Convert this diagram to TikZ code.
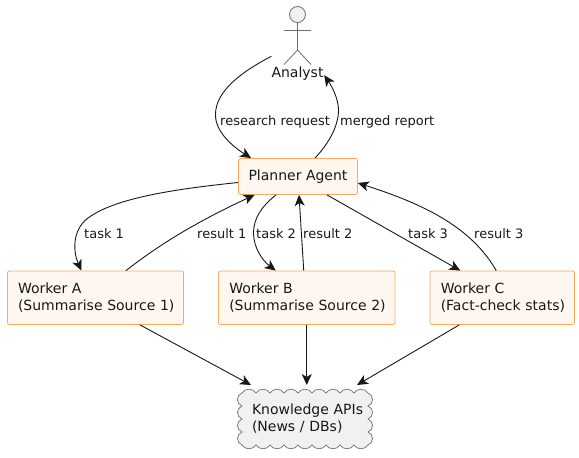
\documentclass[tikz,border=0pt]{standalone}
\usepackage{fontspec}
\setmainfont{DejaVu Sans}
\usetikzlibrary{arrows.meta}
\definecolor{boxline}{HTML}{F0AD62}
\definecolor{boxfill}{HTML}{FFF6F0}
\definecolor{ink}{HTML}{181818}
\definecolor{pale}{HTML}{F1F1F1}
\definecolor{grayline}{HTML}{6E6E6E}
\tikzset{
  x=1pt,y=-1pt,
  every node/.style={font=\fontsize{14}{17.5}\selectfont,text=ink},
  agent/.style={draw=boxline,fill=boxfill,line width=0.8pt,rounded corners=2pt,align=left,inner sep=0pt},
  edge label/.style={anchor=base west,inner sep=0pt,font=\fontsize{13}{15}\selectfont},
  link/.style={draw=ink,line width=0.9pt,-{Stealth[length=11pt,width=10pt,inset=3pt]}},
  actorline/.style={draw=grayline,line width=0.8pt},
}
\begin{document}
\begin{tikzpicture}
\useasboundingbox (0,0) rectangle (579,458);
% actor
\draw[actorline,fill=pale] (297.5,14.5) circle[radius=8pt];
\draw[actorline] (297.5,22.5) -- (297.5,50) (284,30.5) -- (311,30.5) (284,64.5) -- (297.5,50) -- (311,64.5);
\node[inner sep=0pt,minimum width=52pt,minimum height=14pt] (analyst) at (297.5,74) {Analyst};
% boxes
\node[agent,minimum width=119pt,minimum height=36pt] (planner) at (298,176.5) {Planner Agent};
\node[agent,minimum width=176pt,minimum height=53.5pt,text width=155pt] (workerA) at (95.5,297.75) {Worker A\\\mbox{(Summarise Source 1)}};
\node[agent,minimum width=176.5pt,minimum height=53.5pt,text width=155pt] (workerB) at (306.75,297.75) {Worker B\\\mbox{(Summarise Source 2)}};
\node[agent,minimum width=144.5pt,minimum height=53.5pt,text width=123pt] (workerC) at (502.25,297.75) {Worker C\\\mbox{(Fact-check stats)}};
% cloud
\path[draw=grayline,fill=pale,line width=0.7pt]
  (242,393)
  \foreach \i in {0,...,8} { .. controls (242+14*\i+3,388) and (242+14*\i+11,388) .. (242+14*\i+14,393) }
  \foreach \i in {0,...,3} { .. controls (374,393+13*\i+2) and (374,393+13*\i+11) .. (368,393+13*\i+13) }
  \foreach \i in {0,...,8} { .. controls (368-14*\i-3,450) and (368-14*\i-11,450) .. (368-14*\i-14,445) }
  \foreach \i in {0,...,3} { .. controls (236,445-13*\i-2) and (236,445-13*\i-11) .. (242,445-13*\i-13) }
  -- cycle;
\node[inner sep=0pt,align=left,text width=118pt] (apis) at (311,418.5) {Knowledge APIs\\(News / DBs)};
% connectors
\draw[link] ([yshift=10.5pt]analyst.north west) .. controls (245,70) and (215,90) .. (215.5,115) .. controls (215.5,133) and (235,148) .. ([xshift=13pt]planner.north west);
\draw[link] ([xshift=17pt]planner.north) .. controls (330,142) and (338.5,125) .. (338.5,110) .. controls (338.5,100) and (333,88) .. ([xshift=0.5pt,yshift=6pt]analyst.south east);
\draw[link] ([yshift=-6pt]planner.west) .. controls (175,189) and (115,198) .. (88,218) .. controls (72,230) and (73,252) .. ([xshift=-14pt]workerA.north);
\draw[link] ([xshift=30.5pt]workerA.north) .. controls (165,240) and (205,218) .. ([xshift=16.5pt]planner.south west);
\draw[link] ([xshift=-22pt]planner.south) .. controls (262,206) and (253.5,218) .. (253.5,233) .. controls (253.5,248) and (263,261) .. ([xshift=-31pt]workerB.north);
\draw[link] ([xshift=-3pt]workerB.north) -- ([xshift=1pt]planner.south);
\draw[link] ([xshift=29pt]planner.south) -- ([xshift=-42pt]workerC.north);
\draw[link] ([xshift=-6pt]workerC.north) .. controls (470,225) and (420,203) .. ([yshift=-6.5pt]planner.east);
\draw[link] ([xshift=44.5pt]workerA.south) -- (251,385);
\draw[link] (workerB.south) -- (306.75,385);
\draw[link] ([xshift=-43pt]workerC.south) -- (357,385);
% labels
\node[edge label] (l1) at (220,125) {research request};
\node[edge label] (l2) at (340,125) {merged report};
\node[edge label] (l3) at (84,238) {task 1};
\node[edge label] (l4) at (197,238) {result 1};
\node[edge label] (l5) at (256,238) {task 2};
\node[edge label] (l6) at (303,238) {result 2};
\node[edge label] (l7) at (408,238) {task 3};
\node[edge label] (l8) at (474,238) {result 3};
\end{tikzpicture}
\end{document}
